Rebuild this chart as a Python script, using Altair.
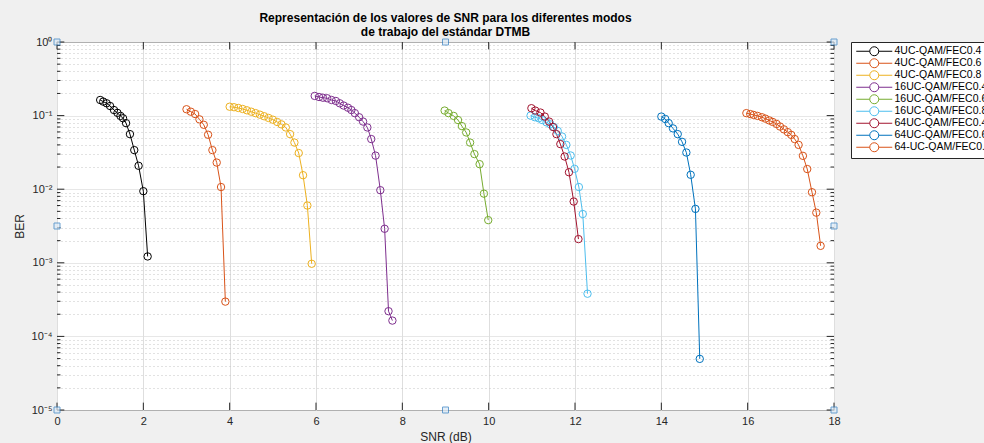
import altair as alt
import pandas as pd

# Series names as shown in the legend (non-breaking space keeps the indent)
series_names = [
    "4UC-QAM/FEC0.4",
    "\u00a04UC-QAM/FEC0.6",
    "\u00a04UC-QAM/FEC0.8",
    "16UC-QAM/FEC0.4",
    "16UC-QAM/FEC0.6",
    "16UC-QAM/FEC0.8",
    "64UC-QAM/FEC0.4",
    "64UC-QAM/FEC0.6",
    "64-UC-QAM/FEC0.8",
]
series_colors = ["#000000", "#D95319", "#EDB120", "#7E2F8E", "#77AC30",
                 "#4DBEEE", "#A2142F", "#0072BD", "#D95319"]

# SNR (dB) and BER per mode
snr_4_04 = [1.00, 1.07, 1.15, 1.23, 1.32, 1.40, 1.47, 1.53, 1.60, 1.69, 1.79, 1.89, 2.00, 2.10]
ber_4_04 = [0.163, 0.155, 0.147, 0.135, 0.119, 0.109, 0.099, 0.092, 0.079, 0.056, 0.034, 0.0208, 0.0094, 0.00122]

snr_4_06 = [3.0, 3.1, 3.2, 3.3, 3.4, 3.5, 3.6, 3.7, 3.8, 3.9]
ber_4_06 = [0.122, 0.113, 0.105, 0.089, 0.075, 0.055, 0.034, 0.023, 0.0107, 0.000297]

snr_4_08 = [4.0, 4.1, 4.2, 4.3, 4.4, 4.5, 4.6, 4.7, 4.8, 4.9,
            5.0, 5.1, 5.2, 5.3, 5.4, 5.5, 5.6, 5.7, 5.8, 5.9]
ber_4_08 = [0.132, 0.130, 0.127, 0.123, 0.118, 0.113, 0.108, 0.103, 0.098, 0.093,
            0.088, 0.082, 0.076, 0.069, 0.056, 0.043, 0.031, 0.0155, 0.0060, 0.00097]

snr_16_04 = [5.97, 6.07, 6.16, 6.26, 6.36, 6.46, 6.55, 6.64, 6.74, 6.82,
             6.90, 7.00, 7.09, 7.19, 7.28, 7.38, 7.49, 7.59, 7.68, 7.77]
ber_16_04 = [0.185, 0.179, 0.175, 0.172, 0.163, 0.158, 0.147, 0.137, 0.128, 0.119,
             0.108, 0.095, 0.083, 0.069, 0.048, 0.0286, 0.0097, 0.0029, 0.00022, 0.000164]

snr_16_06 = [8.98, 9.07, 9.19, 9.29, 9.38, 9.48, 9.57, 9.67, 9.79, 9.89, 9.99]
ber_16_06 = [0.117, 0.108, 0.099, 0.087, 0.072, 0.059, 0.043, 0.030, 0.0219, 0.0087, 0.0038]

snr_16_08 = [10.97, 11.07, 11.16, 11.24, 11.34, 11.43, 11.51, 11.60,
             11.70, 11.80, 11.90, 11.99, 12.09, 12.18, 12.29]
ber_16_08 = [0.100, 0.095, 0.092, 0.087, 0.081, 0.076, 0.070, 0.062,
             0.052, 0.040, 0.0287, 0.0189, 0.0107, 0.0046, 0.00038]

snr_64_04 = [10.99, 11.08, 11.20, 11.30, 11.40, 11.49, 11.57, 11.66, 11.76, 11.86, 11.97, 12.08]
ber_64_04 = [0.126, 0.117, 0.110, 0.097, 0.083, 0.070, 0.056, 0.041, 0.0278, 0.017, 0.0068, 0.0021]

snr_64_06 = [14.00, 14.09, 14.17, 14.27, 14.38, 14.48, 14.58, 14.68, 14.79, 14.89]
ber_64_06 = [0.097, 0.090, 0.079, 0.067, 0.056, 0.044, 0.0315, 0.0157, 0.0054, 0.0000495]

snr_64_08 = [15.97, 16.06, 16.14, 16.23, 16.33, 16.41, 16.50, 16.58, 16.67, 16.75,
             16.84, 16.93, 17.01, 17.09, 17.18, 17.28, 17.38, 17.49, 17.59, 17.69]
ber_64_08 = [0.108, 0.105, 0.102, 0.099, 0.095, 0.091, 0.086, 0.082, 0.077, 0.071,
             0.065, 0.0596, 0.0547, 0.048, 0.040, 0.0284, 0.0188, 0.0091, 0.0048, 0.0017]

all_snr = [snr_4_04, snr_4_06, snr_4_08, snr_16_04, snr_16_06, snr_16_08, snr_64_04, snr_64_06, snr_64_08]
all_ber = [ber_4_04, ber_4_06, ber_4_08, ber_16_04, ber_16_06, ber_16_08, ber_64_04, ber_64_06, ber_64_08]

rows = []
for idx, (name, xs, ys) in enumerate(zip(series_names, all_snr, all_ber)):
    for i, (xv, yv) in enumerate(zip(xs, ys)):
        rows.append({"modo": name, "orden": idx, "i": i, "snr": xv, "ber": yv})
df = pd.DataFrame(rows)

x_ticks = list(range(0, 19, 2))
decades = [1e-5, 1e-4, 1e-3, 1e-2, 1e-1, 1.0]
minor_vals = [k * 10.0 ** e for e in range(-5, 0) for k in range(2, 10)]
y_axis_vals = sorted(decades + minor_vals)

FONT = "Liberation Sans"
X_DOM = [0, 18]
Y_DOM = [1e-5, 1]

x_scale = alt.Scale(domain=X_DOM, nice=False, zero=False)
y_scale = alt.Scale(type="log", domain=Y_DOM, nice=False)

is_minor = "abs(log(datum.value)/LN10 - round(log(datum.value)/LN10)) > 0.01"
expo = "round(log(datum.value)/LN10)"
label_expr = (
    f"{is_minor} ? '' : "
    f"({expo} == 0 ? '10\u2070' : {expo} == -1 ? '10\u207b\u00b9' : "
    f"{expo} == -2 ? '10\u207b\u00b2' : {expo} == -3 ? '10\u207b\u00b3' : "
    f"{expo} == -4 ? '10\u207b\u2074' : '10\u207b\u2075')"
)

x_enc = alt.X(
    "snr:Q", scale=x_scale,
    axis=alt.Axis(values=x_ticks, title="SNR (dB)", grid=True, gridColor="#dedede",
                  ticks=False, domain=False, labelPadding=5, labelFlush=False,
                  titleY=26, titleBaseline="middle"),
)
y_enc = alt.Y(
    "ber:Q", scale=y_scale,
    axis=alt.Axis(values=y_axis_vals, title="BER", grid=True,
                  gridColor={"condition": {"test": is_minor, "value": "#c4c4c4"}, "value": "#dedede"},
                  gridDash={"condition": {"test": is_minor, "value": [1, 3]}, "value": [1, 0]},
                  ticks=False, domain=False, labelExpr=label_expr, labelOverlap=False,
                  labelPadding=5, titleX=-38, titleY=184, titleBaseline="middle",
                  titleAlign="center", titleAngle=270),
)

legend = alt.Legend(
    title=None, orient="none", legendX=794, legendY=0,
    symbolType="M-4,0H-1M1,0H4M1,0A1,1,0,1,1,-1,0A1,1,0,1,1,1,0",
    symbolSize=81, symbolStrokeWidth=1, symbolOffset=14, labelOffset=15,
    labelFont=FONT, labelFontSize=10.5, labelColor="#000000",
    fillColor="#ffffff", strokeColor="#262626", padding=4, rowPadding=-2.5,
    labelLimit=200,
)
color_enc = alt.Color("modo:N", scale=alt.Scale(domain=series_names, range=series_colors),
                      sort=series_names, legend=legend)

lines = alt.Chart(df).mark_line(strokeWidth=1, clip=True).encode(
    x=x_enc, y=y_enc, color=color_enc, detail="orden:N", order="i:Q")
points = alt.Chart(df).mark_point(filled=False, size=55, strokeWidth=1, opacity=1).encode(
    x=alt.X("snr:Q", scale=x_scale), y=alt.Y("ber:Q", scale=y_scale), color=color_enc)

# Inward tick marks on all four sides of the box
tick_major_dx = 0.17
tick_minor_dx = 0.08
tick_dy = 10 ** 0.1
h_ticks = pd.DataFrame(
    [{"x": 0, "x2": tick_major_dx, "y": v} for v in decades]
    + [{"x": 18, "x2": 18 - tick_major_dx, "y": v} for v in decades]
    + [{"x": 0, "x2": tick_minor_dx, "y": v} for v in minor_vals]
    + [{"x": 18, "x2": 18 - tick_minor_dx, "y": v} for v in minor_vals]
)
v_ticks = pd.DataFrame(
    [{"x": t, "y": 1e-5, "y2": 1e-5 * tick_dy} for t in x_ticks]
    + [{"x": t, "y": 1.0, "y2": 1.0 / tick_dy} for t in x_ticks]
)
h_tick_layer = alt.Chart(h_ticks).mark_rule(color="#262626", strokeWidth=1).encode(
    x=alt.X("x:Q", scale=x_scale), x2="x2:Q", y=alt.Y("y:Q", scale=y_scale))
v_tick_layer = alt.Chart(v_ticks).mark_rule(color="#262626", strokeWidth=1).encode(
    x=alt.X("x:Q", scale=x_scale), y=alt.Y("y:Q", scale=y_scale), y2="y2:Q")

# Selection handles on the axes box
handles = pd.DataFrame({
    "x": [0, 9, 18, 0, 18, 0, 9, 18],
    "y": [1.0, 1.0, 1.0, 10 ** -2.5, 10 ** -2.5, 1e-5, 1e-5, 1e-5],
})
handle_layer = alt.Chart(handles).mark_square(
    size=36, filled=True, fill="#dbe9f6", stroke="#2f7cc0", strokeWidth=1, clip=False
).encode(x=alt.X("x:Q", scale=x_scale), y=alt.Y("y:Q", scale=y_scale))

chart = alt.layer(lines, points, h_tick_layer, v_tick_layer, handle_layer).properties(
    width=777, height=368,
    autosize=alt.AutoSizeParams(type="none"),
    padding={"left": 57, "top": 42, "right": 150, "bottom": 33},
    title=alt.TitleParams(
        text=["Representación de los valores de SNR para los diferentes modos",
              "de trabajo del estándar DTMB"],
        font=FONT, fontSize=12, fontWeight="bold", color="#000000",
        anchor="middle", offset=-3, lineHeight=14),
).configure(
    background="#f0f0f0",
).configure_view(
    fill="#ffffff", stroke="#262626", strokeWidth=1,
).configure_axis(
    labelFont=FONT, labelFontSize=11, labelColor="#262626",
    titleFont=FONT, titleFontSize=12, titleColor="#262626", titleFontWeight="normal",
)

chart.save("out.html", embed_options={"renderer": "svg", "actions": False})
